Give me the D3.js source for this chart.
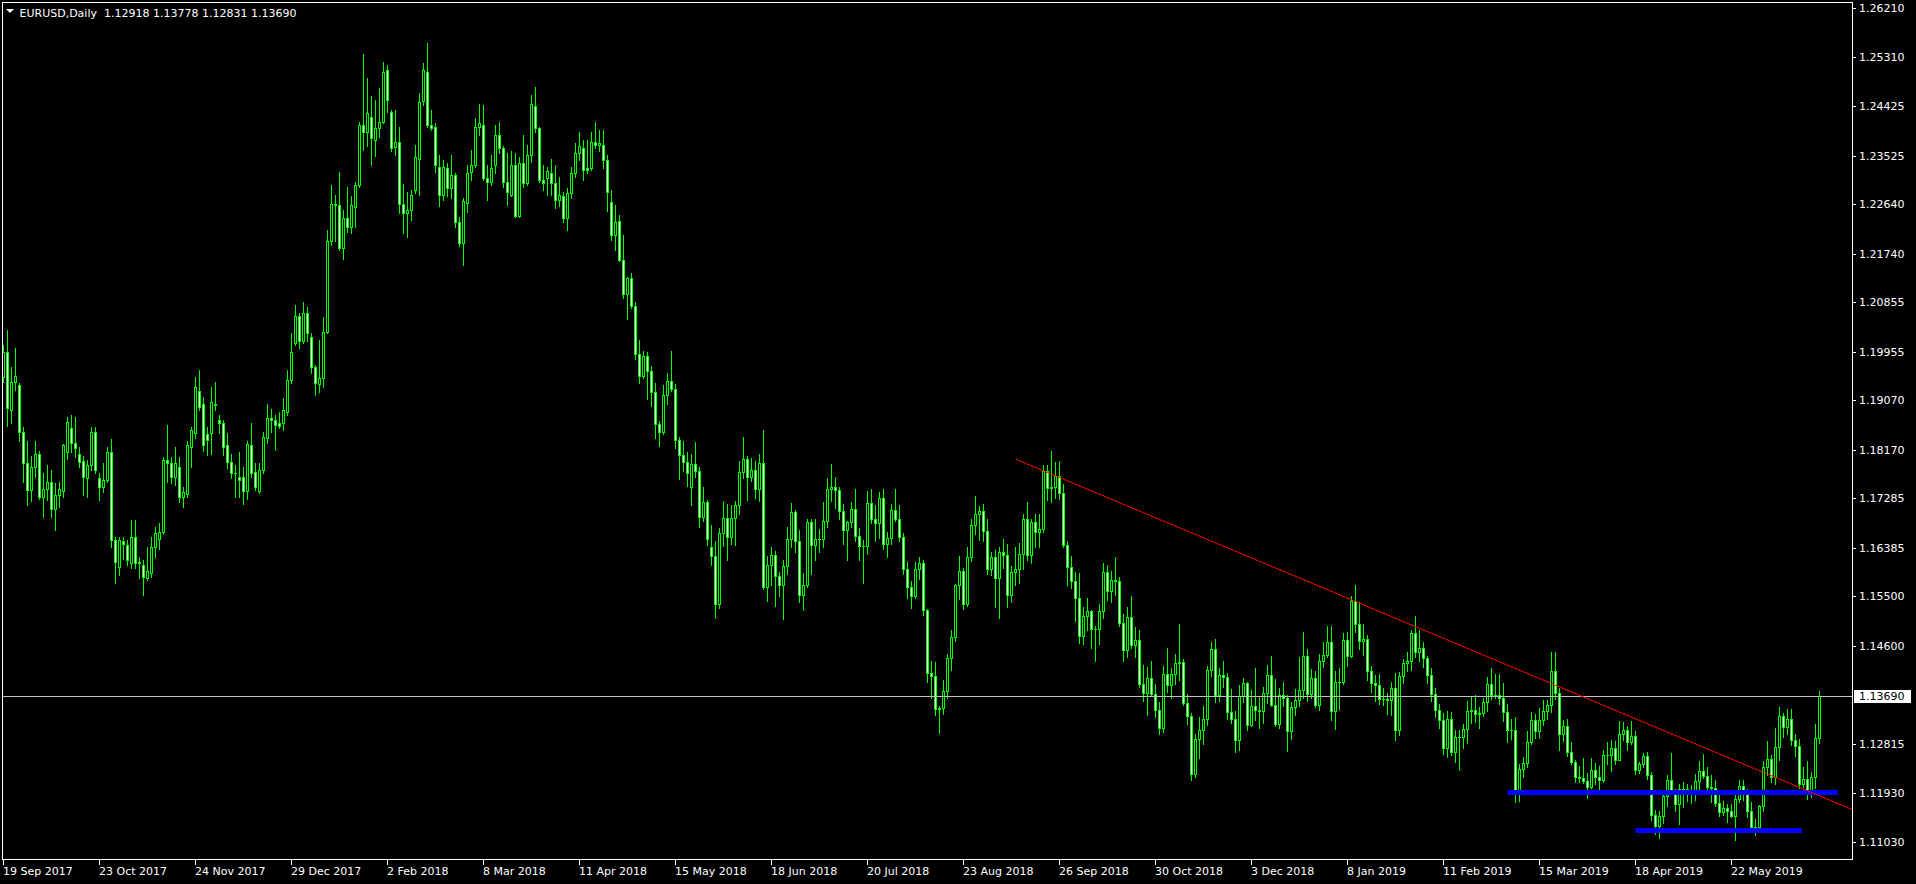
<!DOCTYPE html>
<html><head><meta charset="utf-8">
<script src="https://cdn.jsdelivr.net/npm/d3@7/dist/d3.min.js"></script>
<style>
html,body{margin:0;padding:0;background:#000;overflow:hidden}
svg{display:block}
text{font-family:"DejaVu Sans",sans-serif;font-size:11px;fill:#fff}
</style></head><body>
<svg id="chart" width="1916" height="884"></svg>
<script>
const symbolTitle = "EURUSD,Daily";
const lastQuote = ["1.12918", "1.13778", "1.12831", "1.13690"];
const startDate = "2017-09-19";
const holidays = ["2017-12-25", "2018-01-01", "2018-12-25", "2019-01-01"];

const opens = [
1.1950,1.1995,1.1889,1.1940,1.1935,1.1850,1.1792,1.1744,1.1786,1.1810,
1.1731,1.1746,1.1759,1.1710,1.1734,1.1741,1.1813,1.1856,1.1829,1.1810,
1.1797,1.1765,1.1789,1.1850,1.1765,1.1750,1.1762,1.1813,1.1652,1.1604,
1.1650,1.1643,1.1610,1.1659,1.1613,1.1607,1.1584,1.1592,1.1640,1.1655,
1.1667,1.1798,1.1792,1.1768,1.1786,1.1731,1.1737,1.1822,1.1847,1.1923,
1.1901,1.1846,1.1847,1.1901,1.1871,1.1865,1.1825,1.1795,1.1774,1.1768,
1.1768,1.1741,1.1825,1.1777,1.1741,1.1780,1.1838,1.1874,1.1871,1.1865,
1.1865,1.1886,1.1944,1.2011,1.2060,1.2014,1.2065,1.2023,1.1968,1.1937,
1.1947,1.2032,1.2196,1.2265,1.2262,1.2184,1.2238,1.2222,1.2259,1.2299,
1.2408,1.2396,1.2423,1.2381,1.2402,1.2414,1.2508,1.2432,1.2368,1.2378,
1.2265,1.2247,1.2253,1.2290,1.2347,1.2451,1.2505,1.2408,1.2405,1.2332,
1.2281,1.2329,1.2293,1.2317,1.2232,1.2193,1.2266,1.2323,1.2335,1.2405,
1.2408,1.2311,1.2305,1.2335,1.2390,1.2366,1.2305,1.2281,1.2336,1.2243,
1.2338,1.2302,1.2353,1.2442,1.2402,1.2308,1.2312,1.2320,1.2302,1.2271,
1.2278,1.2238,1.2284,1.2320,1.2357,1.2366,1.2330,1.2330,1.2378,1.2372,
1.2372,1.2344,1.2268,1.2208,1.2234,1.2162,1.2101,1.2130,1.2078,1.1991,
1.1952,1.1988,1.1960,1.1922,1.1864,1.1850,1.1917,1.1942,1.1927,1.1835,
1.1808,1.1794,1.1750,1.1791,1.1779,1.1695,1.1721,1.1640,1.1624,1.1537,
1.1665,1.1693,1.1658,1.1693,1.1716,1.1776,1.1800,1.1768,1.1780,1.1745,
1.1792,1.1568,1.1608,1.1625,1.1588,1.1570,1.1605,1.1655,1.1703,1.1650,
1.1553,1.1570,1.1685,1.1644,1.1655,1.1655,1.1688,1.1745,1.1749,1.1743,
1.1706,1.1670,1.1685,1.1710,1.1660,1.1642,1.1641,1.1720,1.1690,1.1683,
1.1730,1.1645,1.1657,1.1707,1.1691,1.1658,1.1599,1.1567,1.1551,1.1600,
1.1611,1.1526,1.1410,1.1405,1.1345,1.1347,1.1378,1.1437,1.1477,1.1570,
1.1597,1.1537,1.1621,1.1680,1.1700,1.1706,1.1669,1.1600,1.1621,1.1584,
1.1630,1.1625,1.1552,1.1594,1.1600,1.1627,1.1690,1.1625,1.1685,1.1668,
1.1672,1.1778,1.1748,1.1750,1.1770,1.1738,1.1644,1.1603,1.1578,1.1548,
1.1478,1.1514,1.1523,1.1491,1.1491,1.1524,1.1594,1.1560,1.1580,1.1578,
1.1502,1.1452,1.1513,1.1462,1.1470,1.1391,1.1374,1.1402,1.1373,1.1344,
1.1311,1.1409,1.1388,1.1408,1.1428,1.1430,1.1356,1.1333,1.1226,1.1290,
1.1306,1.1326,1.1416,1.1455,1.1370,1.1407,1.1403,1.1339,1.1326,1.1288,
1.1368,1.1393,1.1316,1.1350,1.1343,1.1342,1.1375,1.1407,1.1352,1.1318,
1.1370,1.1366,1.1305,1.1348,1.1361,1.1380,1.1442,1.1372,1.1402,1.1353,
1.1432,1.1443,1.1467,1.1341,1.1394,1.1394,1.1471,1.1442,1.1541,1.1500,
1.1468,1.1473,1.1414,1.1392,1.1389,1.1364,1.1363,1.1362,1.1384,1.1306,
1.1406,1.1428,1.1432,1.1483,1.1448,1.1456,1.1437,1.1407,1.1373,1.1343,
1.1325,1.1275,1.1326,1.1266,1.1295,1.1295,1.1309,1.1342,1.1343,1.1336,
1.1337,1.1358,1.1391,1.1370,1.1370,1.1365,1.1340,1.1307,1.1306,1.1194,
1.1235,1.1247,1.1285,1.1325,1.1305,1.1325,1.1342,1.1352,1.1415,1.1374,
1.1300,1.1314,1.1266,1.1248,1.1222,1.1220,1.1214,1.1203,1.1234,1.1221,
1.1216,1.1262,1.1262,1.1274,1.1253,1.1299,1.1307,1.1285,1.1296,1.1234,
1.1245,1.1259,1.1225,1.1153,1.1132,1.1150,1.1186,1.1215,1.1195,1.1172,
1.1199,1.1199,1.1192,1.1190,1.1214,1.1233,1.1224,1.1203,1.1202,1.1174,
1.1158,1.1165,1.1160,1.1151,1.1181,1.1205,1.1194,1.1160,1.1131,1.1130,
1.1169,1.1240,1.1254,1.1222,1.1276,1.1332,1.1312,1.1327,1.1289,1.1277,
1.1209,1.1218,1.1194,1.1222,1.12918];

const highs = [
1.2008,1.2035,1.1967,1.2003,1.1938,1.1859,1.1832,1.1805,1.1832,1.1815,
1.1774,1.1789,1.1780,1.1756,1.1759,1.1828,1.1876,1.1880,1.1877,1.1822,
1.1806,1.1798,1.1859,1.1859,1.1774,1.1792,1.1822,1.1837,1.1658,1.1658,
1.1658,1.1652,1.1689,1.1689,1.1622,1.1616,1.1640,1.1658,1.1677,1.1683,
1.1804,1.1862,1.1804,1.1822,1.1804,1.1750,1.1832,1.1859,1.1950,1.1962,
1.1913,1.1859,1.1932,1.1941,1.1880,1.1871,1.1847,1.1810,1.1789,1.1813,
1.1786,1.1832,1.1865,1.1792,1.1792,1.1850,1.1901,1.1892,1.1880,1.1886,
1.1911,1.1962,1.2029,1.2081,1.2066,1.2086,1.2077,1.2029,1.1971,1.2017,
1.2059,1.2217,1.2299,1.2281,1.2323,1.2253,1.2296,1.2279,1.2305,1.2414,
1.2538,1.2493,1.2460,1.2454,1.2475,1.2523,1.2517,1.2435,1.2435,1.2405,
1.2301,1.2287,1.2290,1.2372,1.2466,1.2520,1.2557,1.2435,1.2411,1.2353,
1.2344,1.2338,1.2353,1.2320,1.2241,1.2275,1.2335,1.2363,1.2420,1.2447,
1.2445,1.2335,1.2353,1.2408,1.2414,1.2369,1.2357,1.2360,1.2357,1.2350,
1.2390,1.2372,1.2463,1.2478,1.2405,1.2335,1.2332,1.2347,1.2335,1.2314,
1.2287,1.2293,1.2332,1.2375,1.2396,1.2381,1.2381,1.2396,1.2414,1.2399,
1.2399,1.2353,1.2290,1.2262,1.2245,1.2208,1.2132,1.2138,1.2085,1.2017,
1.1997,1.1995,1.1970,1.1939,1.1869,1.1934,1.1956,1.1996,1.1937,1.1841,
1.1833,1.1812,1.1809,1.1831,1.1786,1.1749,1.1726,1.1680,1.1650,1.1675,
1.1724,1.1718,1.1716,1.1724,1.1796,1.1840,1.1805,1.1802,1.1796,1.1810,
1.1852,1.1624,1.1640,1.1632,1.1595,1.1617,1.1676,1.1720,1.1707,1.1670,
1.1593,1.1691,1.1690,1.1690,1.1673,1.1721,1.1765,1.1791,1.1767,1.1750,
1.1718,1.1688,1.1721,1.1745,1.1675,1.1652,1.1742,1.1745,1.1716,1.1740,
1.1745,1.1667,1.1718,1.1745,1.1716,1.1665,1.1612,1.1578,1.1613,1.1622,
1.1617,1.1528,1.1432,1.1430,1.1351,1.1397,1.1446,1.1488,1.1573,1.1623,
1.1601,1.1640,1.1690,1.1733,1.1714,1.1718,1.1690,1.1630,1.1634,1.1640,
1.1655,1.1645,1.1605,1.1640,1.1647,1.1700,1.1721,1.1690,1.1700,1.1700,
1.1790,1.1790,1.1815,1.1795,1.1797,1.1754,1.1650,1.1623,1.1595,1.1592,
1.1531,1.1548,1.1526,1.1496,1.1536,1.1610,1.1608,1.1597,1.1621,1.1585,
1.1518,1.1530,1.1550,1.1495,1.1488,1.1425,1.1422,1.1432,1.1391,1.1357,
1.1424,1.1456,1.1420,1.1445,1.1500,1.1436,1.1373,1.1337,1.1300,1.1330,
1.1350,1.1424,1.1467,1.1472,1.1420,1.1432,1.1410,1.1381,1.1342,1.1389,
1.1402,1.1395,1.1380,1.1420,1.1368,1.1386,1.1425,1.1442,1.1400,1.1384,
1.1394,1.1370,1.1358,1.1381,1.1440,1.1486,1.1455,1.1418,1.1414,1.1446,
1.1467,1.1497,1.1497,1.1414,1.1420,1.1483,1.1485,1.1550,1.1570,1.1540,
1.1499,1.1480,1.1423,1.1407,1.1408,1.1383,1.1375,1.1395,1.1410,1.1413,
1.1436,1.1449,1.1489,1.1514,1.1489,1.1467,1.1441,1.1419,1.1384,1.1355,
1.1337,1.1341,1.1340,1.1306,1.1306,1.1318,1.1360,1.1369,1.1370,1.1348,
1.1366,1.1404,1.1420,1.1408,1.1408,1.1393,1.1354,1.1326,1.1330,1.1245,
1.1257,1.1305,1.1340,1.1336,1.1346,1.1362,1.1362,1.1448,1.1448,1.1384,
1.1325,1.1327,1.1285,1.1253,1.1241,1.1255,1.1228,1.1255,1.1247,1.1242,
1.1270,1.1285,1.1288,1.1286,1.1323,1.1322,1.1314,1.1324,1.1305,1.1249,
1.1265,1.1266,1.1230,1.1161,1.1160,1.1190,1.1225,1.1265,1.1200,1.1208,
1.1213,1.1209,1.1206,1.1226,1.1250,1.1264,1.1240,1.1225,1.1216,1.1188,
1.1177,1.1172,1.1172,1.1190,1.1215,1.1215,1.1200,1.1175,1.1145,1.1170,
1.1250,1.1286,1.1262,1.1310,1.1348,1.1338,1.1345,1.1345,1.1300,1.1290,
1.1240,1.1250,1.1230,1.1318,1.13778];

const lows = [
1.1940,1.1861,1.1865,1.1925,1.1832,1.1759,1.1717,1.1723,1.1768,1.1727,
1.1695,1.1725,1.1695,1.1671,1.1713,1.1731,1.1801,1.1813,1.1804,1.1786,
1.1734,1.1731,1.1780,1.1774,1.1725,1.1740,1.1759,1.1640,1.1574,1.1589,
1.1619,1.1607,1.1601,1.1601,1.1583,1.1552,1.1580,1.1586,1.1622,1.1637,
1.1664,1.1759,1.1756,1.1753,1.1722,1.1713,1.1731,1.1786,1.1838,1.1889,
1.1814,1.1808,1.1810,1.1889,1.1847,1.1807,1.1783,1.1765,1.1731,1.1731,
1.1719,1.1728,1.1768,1.1743,1.1738,1.1774,1.1829,1.1850,1.1816,1.1856,
1.1853,1.1880,1.1938,1.2008,1.2002,1.2011,1.2014,1.1956,1.1917,1.1922,
1.1932,1.2029,1.2190,1.2196,1.2181,1.2165,1.2214,1.2212,1.2223,1.2296,
1.2363,1.2369,1.2335,1.2351,1.2387,1.2411,1.2432,1.2360,1.2353,1.2247,
1.2211,1.2205,1.2235,1.2284,1.2281,1.2444,1.2405,1.2399,1.2323,1.2260,
1.2272,1.2278,1.2275,1.2223,1.2187,1.2153,1.2250,1.2308,1.2332,1.2390,
1.2308,1.2272,1.2299,1.2320,1.2357,1.2296,1.2263,1.2278,1.2241,1.2240,
1.2296,1.2299,1.2341,1.2396,1.2305,1.2290,1.2281,1.2281,1.2257,1.2260,
1.2232,1.2217,1.2275,1.2314,1.2345,1.2308,1.2320,1.2327,1.2366,1.2360,
1.2329,1.2251,1.2199,1.2180,1.2160,1.2094,1.2055,1.2075,1.1983,1.1938,
1.1947,1.1910,1.1896,1.1838,1.1823,1.1846,1.1900,1.1923,1.1821,1.1763,
1.1779,1.1751,1.1716,1.1768,1.1676,1.1688,1.1644,1.1608,1.1510,1.1529,
1.1641,1.1616,1.1646,1.1644,1.1700,1.1765,1.1726,1.1760,1.1730,1.1724,
1.1563,1.1541,1.1570,1.1532,1.1550,1.1508,1.1590,1.1640,1.1630,1.1540,
1.1526,1.1567,1.1591,1.1616,1.1630,1.1640,1.1677,1.1723,1.1711,1.1690,
1.1645,1.1616,1.1676,1.1651,1.1616,1.1575,1.1627,1.1683,1.1650,1.1657,
1.1637,1.1621,1.1645,1.1687,1.1651,1.1590,1.1548,1.1529,1.1547,1.1581,
1.1516,1.1394,1.1365,1.1334,1.1301,1.1336,1.1365,1.1416,1.1468,1.1546,
1.1527,1.1532,1.1614,1.1664,1.1653,1.1650,1.1590,1.1589,1.1530,1.1510,
1.1602,1.1530,1.1540,1.1570,1.1575,1.1600,1.1617,1.1610,1.1640,1.1640,
1.1668,1.1725,1.1722,1.1730,1.1728,1.1640,1.1570,1.1565,1.1505,1.1465,
1.1463,1.1488,1.1456,1.1432,1.1463,1.1510,1.1544,1.1540,1.1553,1.1496,
1.1433,1.1440,1.1457,1.1440,1.1385,1.1360,1.1335,1.1370,1.1330,1.1300,
1.1304,1.1376,1.1366,1.1390,1.1398,1.1352,1.1318,1.1216,1.1221,1.1255,
1.1282,1.1316,1.1405,1.1357,1.1360,1.1385,1.1327,1.1320,1.1267,1.1270,
1.1358,1.1306,1.1314,1.1325,1.1310,1.1320,1.1356,1.1350,1.1314,1.1310,
1.1350,1.1269,1.1290,1.1335,1.1350,1.1365,1.1360,1.1365,1.1349,1.1343,
1.1422,1.1440,1.1325,1.1309,1.1345,1.1391,1.1424,1.1439,1.1485,1.1455,
1.1443,1.1397,1.1376,1.1360,1.1354,1.1353,1.1336,1.1335,1.1289,1.1297,
1.1392,1.1415,1.1416,1.1439,1.1432,1.1421,1.1393,1.1359,1.1331,1.1310,
1.1264,1.1257,1.1261,1.1249,1.1234,1.1275,1.1283,1.1320,1.1321,1.1310,
1.1333,1.1342,1.1364,1.1366,1.1355,1.1323,1.1285,1.1291,1.1176,1.1178,
1.1221,1.1240,1.1282,1.1293,1.1293,1.1316,1.1327,1.1339,1.1363,1.1270,
1.1287,1.1260,1.1245,1.1212,1.1212,1.1210,1.1183,1.1201,1.1208,1.1200,
1.1212,1.1245,1.1232,1.1245,1.1252,1.1289,1.1270,1.1281,1.1226,1.1229,
1.1240,1.1217,1.1143,1.1118,1.1111,1.1138,1.1168,1.1190,1.1160,1.1135,
1.1166,1.1178,1.1174,1.1180,1.1200,1.1220,1.1200,1.1176,1.1168,1.1150,
1.1152,1.1140,1.1149,1.1107,1.1176,1.1180,1.1149,1.1125,1.1116,1.1122,
1.1160,1.1225,1.1212,1.1208,1.1252,1.1295,1.1300,1.1280,1.1260,1.1202,
1.1203,1.1181,1.1185,1.1202,1.12831];

const closes = [
1.1995,1.1893,1.1941,1.1952,1.1850,1.1792,1.1744,1.1786,1.1810,1.1731,
1.1746,1.1759,1.1710,1.1734,1.1745,1.1825,1.1867,1.1829,1.1820,1.1795,
1.1768,1.1789,1.1850,1.1780,1.1750,1.1762,1.1813,1.1652,1.1613,1.1652,
1.1646,1.1616,1.1659,1.1610,1.1610,1.1586,1.1596,1.1640,1.1665,1.1667,
1.1798,1.1792,1.1768,1.1792,1.1731,1.1740,1.1825,1.1853,1.1932,1.1895,
1.1826,1.1835,1.1904,1.1899,1.1865,1.1822,1.1795,1.1774,1.1774,1.1762,
1.1741,1.1828,1.1774,1.1750,1.1780,1.1841,1.1874,1.1871,1.1862,1.1860,
1.1889,1.1944,1.1995,1.2060,1.2014,1.2065,1.2029,1.1968,1.1938,1.1947,
1.2032,1.2196,1.2265,1.2262,1.2184,1.2238,1.2222,1.2262,1.2299,1.2408,
1.2396,1.2429,1.2384,1.2402,1.2414,1.2505,1.2453,1.2366,1.2378,1.2265,
1.2247,1.2253,1.2280,1.2350,1.2450,1.2508,1.2408,1.2402,1.2335,1.2281,
1.2332,1.2293,1.2317,1.2232,1.2193,1.2269,1.2320,1.2335,1.2405,1.2411,
1.2311,1.2305,1.2330,1.2390,1.2366,1.2305,1.2287,1.2336,1.2243,1.2338,
1.2302,1.2353,1.2447,1.2402,1.2308,1.2302,1.2325,1.2302,1.2272,1.2281,
1.2238,1.2284,1.2320,1.2357,1.2369,1.2326,1.2327,1.2378,1.2372,1.2376,
1.2344,1.2287,1.2208,1.2232,1.2162,1.2101,1.2130,1.2078,1.1991,1.1952,
1.1988,1.1960,1.1922,1.1864,1.1850,1.1917,1.1942,1.1927,1.1835,1.1808,
1.1794,1.1775,1.1791,1.1779,1.1695,1.1721,1.1655,1.1624,1.1537,1.1665,
1.1693,1.1658,1.1693,1.1716,1.1776,1.1800,1.1768,1.1780,1.1745,1.1792,
1.1568,1.1608,1.1625,1.1588,1.1570,1.1605,1.1655,1.1703,1.1650,1.1553,
1.1570,1.1685,1.1644,1.1655,1.1655,1.1688,1.1745,1.1749,1.1743,1.1706,
1.1670,1.1685,1.1710,1.1660,1.1642,1.1641,1.1720,1.1690,1.1683,1.1730,
1.1645,1.1657,1.1707,1.1691,1.1658,1.1599,1.1567,1.1551,1.1600,1.1611,
1.1526,1.1410,1.1405,1.1345,1.1347,1.1378,1.1437,1.1477,1.1570,1.1597,
1.1537,1.1621,1.1680,1.1700,1.1706,1.1669,1.1600,1.1621,1.1584,1.1630,
1.1625,1.1552,1.1594,1.1600,1.1627,1.1690,1.1625,1.1685,1.1668,1.1672,
1.1778,1.1748,1.1750,1.1770,1.1738,1.1644,1.1603,1.1578,1.1548,1.1478,
1.1514,1.1523,1.1491,1.1491,1.1524,1.1594,1.1560,1.1580,1.1578,1.1502,
1.1452,1.1513,1.1462,1.1470,1.1391,1.1374,1.1402,1.1373,1.1344,1.1311,
1.1409,1.1388,1.1408,1.1428,1.1430,1.1356,1.1333,1.1226,1.1290,1.1306,
1.1326,1.1416,1.1455,1.1370,1.1407,1.1403,1.1339,1.1326,1.1288,1.1368,
1.1393,1.1316,1.1350,1.1343,1.1342,1.1375,1.1407,1.1352,1.1318,1.1370,
1.1366,1.1305,1.1348,1.1361,1.1380,1.1442,1.1372,1.1402,1.1353,1.1432,
1.1443,1.1467,1.1341,1.1394,1.1394,1.1471,1.1442,1.1541,1.1500,1.1468,
1.1473,1.1414,1.1392,1.1389,1.1364,1.1363,1.1362,1.1384,1.1306,1.1406,
1.1428,1.1432,1.1483,1.1448,1.1456,1.1437,1.1407,1.1373,1.1343,1.1325,
1.1275,1.1326,1.1266,1.1295,1.1295,1.1309,1.1342,1.1343,1.1336,1.1337,
1.1358,1.1391,1.1370,1.1370,1.1365,1.1340,1.1307,1.1306,1.1194,1.1235,
1.1247,1.1285,1.1325,1.1305,1.1325,1.1342,1.1352,1.1415,1.1374,1.1300,
1.1314,1.1266,1.1248,1.1222,1.1220,1.1214,1.1203,1.1234,1.1221,1.1216,
1.1262,1.1262,1.1274,1.1253,1.1299,1.1307,1.1285,1.1296,1.1234,1.1245,
1.1259,1.1225,1.1153,1.1132,1.1150,1.1186,1.1215,1.1195,1.1172,1.1199,
1.1199,1.1192,1.1190,1.1214,1.1233,1.1224,1.1203,1.1202,1.1174,1.1158,
1.1165,1.1160,1.1151,1.1181,1.1205,1.1194,1.1160,1.1131,1.1130,1.1169,
1.1240,1.1254,1.1222,1.1276,1.1332,1.1312,1.1327,1.1289,1.1277,1.1209,
1.1218,1.1194,1.1222,1.1292,1.13690];

const priceTicks = [1.26210,1.25310,1.24425,1.23525,1.22640,1.21740,1.20855,1.19955,1.19070,
  1.18170,1.17285,1.16385,1.15500,1.14600,1.12815,1.11930,1.11030];
const dateTicks = ["19 Sep 2017","23 Oct 2017","24 Nov 2017","29 Dec 2017","2 Feb 2018","8 Mar 2018",
  "11 Apr 2018","15 May 2018","18 Jun 2018","20 Jul 2018","23 Aug 2018","26 Sep 2018","30 Oct 2018",
  "3 Dec 2018","8 Jan 2019","11 Feb 2019","15 Mar 2019","18 Apr 2019","22 May 2019"];

// drawn objects (time as bar number, price)
const trendBars = [253, 454];
const trendPrices = [1.1800, 1.1187];
const levelPrices = [1.11930, 1.11243];
const levelFromBars = [376, 408];
const levelToBars = [458.6, 449.6];

// ---------- build trading calendar ----------
const fmtKey = d3.utcFormat("%Y-%m-%d");
const fmtLabel = d3.utcFormat("%-d %b %Y");
const dates = [];
let d = d3.utcParse("%Y-%m-%d")(startDate);
while (dates.length < closes.length) {
  const wd = d.getUTCDay();
  if (wd !== 0 && wd !== 6 && !holidays.includes(fmtKey(d))) dates.push(new Date(d));
  d = d3.utcDay.offset(d, 1);
}

const W = 1916, H = 884;
const plotL = 2, plotT = 2, plotR = 1853, plotB = 860;
const svg = d3.select("#chart");
svg.append("rect").attr("width", W).attr("height", H).attr("fill", "#000");

const N = closes.length;
const x = d3.scaleLinear().domain([0, N - 1]).range([3.5, 3.5 + 4 * (N - 1)]);
const y = d3.scaleLinear().domain([priceTicks[0], priceTicks[priceTicks.length - 1]]).range([8, 842]);

svg.append("clipPath").attr("id", "clip").append("rect")
  .attr("x", plotL + 1).attr("y", plotT + 1).attr("width", plotR - plotL - 1).attr("height", plotB - plotT - 1);

const gPlot = svg.append("g").attr("clip-path", "url(#clip)");

const GREEN = "#00ff00";
const BEAR_FILL = "#ffffff";
const bars = d3.range(N).map(i => ({ i, o: opens[i], h: highs[i], l: lows[i], c: closes[i] }));

const gC = gPlot.append("g");
bars.forEach(b => {
  const cx = Math.floor(x(b.i));
  const yh = Math.round(y(b.h)), yl = Math.round(y(b.l));
  const yt = Math.round(y(Math.max(b.o, b.c))), yb = Math.round(y(Math.min(b.o, b.c)));
  gC.append("rect").attr("x", cx).attr("y", yh).attr("width", 1).attr("height", Math.max(1, yl - yh + 1)).attr("fill", GREEN);
  gC.append("rect").attr("x", cx - 1).attr("y", yt).attr("width", 3).attr("height", Math.max(1, yb - yt + 1)).attr("fill", GREEN);
  if (yb - yt > 1) {
    gC.append("rect").attr("x", cx).attr("y", yt + 1).attr("width", 1).attr("height", yb - yt - 1)
      .attr("fill", b.c >= b.o ? "#000000" : BEAR_FILL);
  }
});

// current price line
const lastY = Math.round(y(closes[N - 1])) + 0.5;
gPlot.append("line").attr("x1", plotL).attr("x2", plotR).attr("y1", lastY).attr("y2", lastY)
  .attr("stroke", "#c0c0c0").attr("stroke-width", 1);

// horizontal levels (blue)
levelPrices.forEach((p, j) => {
  const yc = y(p);
  gPlot.append("rect").attr("x", x(levelFromBars[j])).attr("y", Math.round(yc - 2.5))
    .attr("width", x(levelToBars[j]) - x(levelFromBars[j])).attr("height", 5).attr("fill", "#0000ff");
});

// trend line with ray
const slope = (trendPrices[1] - trendPrices[0]) / (trendBars[1] - trendBars[0]);
const endBar = x.invert(plotR);
gPlot.append("line")
  .attr("x1", x(trendBars[0])).attr("y1", y(trendPrices[0]))
  .attr("x2", x(endBar)).attr("y2", y(trendPrices[0] + slope * (endBar - trendBars[0])))
  .attr("stroke", "#ff0000").attr("stroke-width", 1);

// frame
svg.append("rect").attr("x", plotL + 0.5).attr("y", plotT + 0.5)
  .attr("width", plotR - plotL - 1).attr("height", plotB - plotT - 1)
  .attr("fill", "none").attr("stroke", "#ffffff").attr("stroke-width", 1);

// price axis
const gY = svg.append("g");
priceTicks.forEach(p => {
  const yy = Math.round(y(p)) + 0.5;
  gY.append("line").attr("x1", plotR - 0.5).attr("x2", plotR + 3).attr("y1", yy).attr("y2", yy).attr("stroke", "#fff");
  gY.append("text").attr("x", 1859).attr("y", yy).attr("dy", "0.36em").text(p.toFixed(5));
});

// current price label
gY.append("rect").attr("x", 1854).attr("y", lastY - 6.5).attr("width", 57).attr("height", 13).attr("fill", "#fff");
gY.append("text").attr("x", 1859).attr("y", lastY).attr("dy", "0.36em").style("fill", "#000").text(closes[N - 1].toFixed(5));

// time axis
const gX = svg.append("g");
dateTicks.forEach(lbl => {
  const idx = dates.findIndex(dt => fmtLabel(dt) === lbl);
  if (idx < 0) return;
  const xx = Math.floor(x(idx)) + 0.5;
  gX.append("line").attr("x1", xx).attr("x2", xx).attr("y1", plotB - 0.5).attr("y2", plotB + 5).attr("stroke", "#fff");
  gX.append("text").attr("x", xx - 0.5).attr("y", 875).text(lbl);
});

// header
svg.append("path").attr("d", "M6,9 L14,9 L10,13 Z").attr("fill", "#fff");
svg.append("text").attr("x", 19.5).attr("y", 17).style("white-space", "pre")
  .text(symbolTitle + "  " + lastQuote.join(" "));
</script>
</body></html>
